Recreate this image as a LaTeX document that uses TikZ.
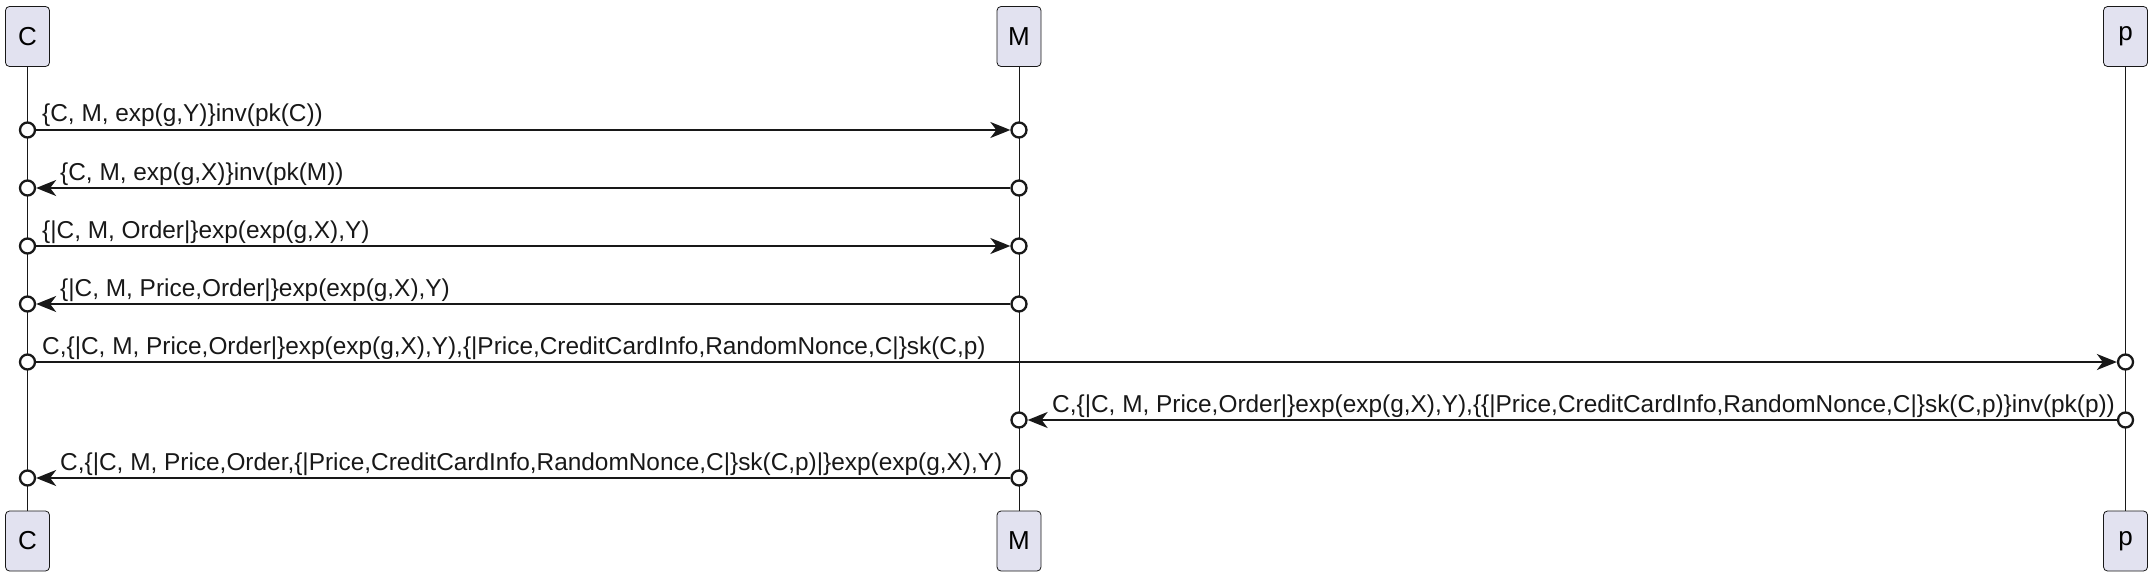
\documentclass[tikz,border=0pt]{standalone}
\usepackage{fontspec}
\setmainfont{Liberation Sans}
\usetikzlibrary{arrows.meta,calc}
\definecolor{boxfill}{HTML}{E2E2F0}
\definecolor{ink}{HTML}{181818}
\begin{document}
\begin{tikzpicture}[x=1pt,y=1pt,
  pbox/.style={draw=ink, fill=boxfill, line width=0.8pt, rounded corners=4pt,
    minimum width=44pt, minimum height=60pt, inner sep=0pt, font=\fontsize{26}{31}\selectfont},
  life/.style={draw=ink, line width=1pt},
  endc/.style={circle, draw=ink, line width=2.3pt, fill=white, minimum size=15pt, inner sep=0pt},
  msg/.style={draw=ink, line width=2pt, -{Stealth[length=20pt,width=16pt,inset=6pt]}},
  lbl/.style={anchor=base west, inner sep=0pt, text=ink, font=\fontsize{24.4}{29}\selectfont}]
\useasboundingbox (0,0) rectangle (2154,-575);
% participants
\node[pbox] (Ct) at (27.5,-36.5) {C};
\node[pbox] (Mt) at (1019,-36.5) {M};
\node[pbox] (Pt) at (2125.5,-36.5) {p};
\node[pbox] (Cb) at (27.5,-541) {C};
\node[pbox] (Mb) at (1019,-541) {M};
\node[pbox] (Pb) at (2125.5,-541) {p};
\draw[life] (Ct.south) -- (Cb.north);
\draw[life] (Mt.south) -- (Mb.north);
\draw[life] (Pt.south) -- (Pb.north);
% endpoints
\foreach \i/\y in {1/130,2/188,3/246,4/304,5/362,7/478} \node[endc] (c\i) at (27.5,-\y) {};
\foreach \i/\y in {1/130,2/188,3/246,4/304,6/420,7/478} \node[endc] (m\i) at (1019,-\y) {};
\foreach \i/\y in {5/362,6/420} \node[endc] (p\i) at (2125.5,-\y) {};
% messages
\draw[msg] (c1) -- (m1);
\draw[msg] (m2) -- (c2);
\draw[msg] (c3) -- (m3);
\draw[msg] (m4) -- (c4);
\draw[msg] (c5) -- (p5);
\draw[msg] (p6) -- (m6);
\draw[msg] (m7) -- (c7);
% labels
\node[lbl] (l1) at (42,-122) {\{C, M, exp(g,Y)\}inv(pk(C))};
\node[lbl] (l2) at (60,-180) {\{C, M, exp(g,X)\}inv(pk(M))};
\node[lbl] (l3) at (42,-238) {\{|C, M, Order|\}exp(exp(g,X),Y)};
\node[lbl] (l4) at (60,-296) {\{|C, M, Price,Order|\}exp(exp(g,X),Y)};
\node[lbl] (l5) at (42,-354) {C,\{|C, M, Price,Order|\}exp(exp(g,X),Y),\{|Price,CreditCardInfo,RandomNonce,C|\}sk(C,p)};
\node[lbl] (l6) at (1052,-412) {C,\{|C, M, Price,Order|\}exp(exp(g,X),Y),\{\{|Price,CreditCardInfo,RandomNonce,C|\}sk(C,p)\}inv(pk(p))};
\node[lbl] (l7) at (60,-470) {C,\{|C, M, Price,Order,\{|Price,CreditCardInfo,RandomNonce,C|\}sk(C,p)|\}exp(exp(g,X),Y)};
\end{tikzpicture}
\end{document}
